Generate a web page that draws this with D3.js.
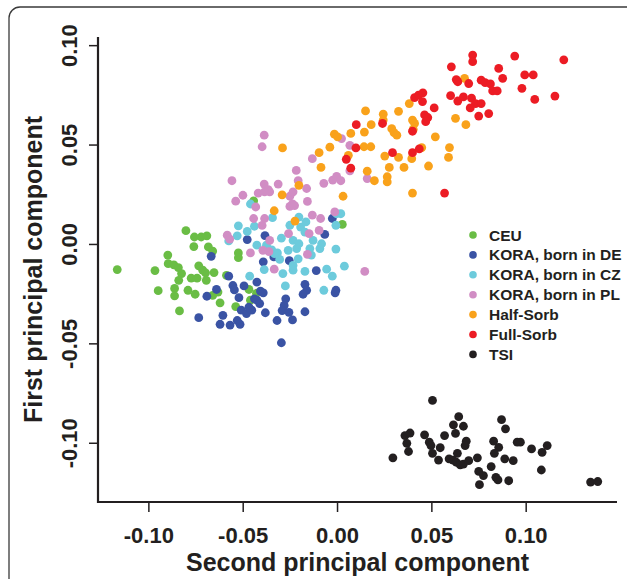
<!DOCTYPE html>
<html>
<head>
<meta charset="utf-8">
<script src="https://cdn.jsdelivr.net/npm/d3@7"></script>
<style>
  body { margin: 0; background: #fff; }
  text { font-family: "Liberation Sans", Arial, sans-serif; font-weight: bold; fill: #231f20; }
</style>
</head>
<body>
<div class="chart"></div>
<script>
// [second PC, first PC] for each sample
var ceu = [[-0.1165,-0.0129],[-0.0965,-0.0134],[-0.0948,-0.0235],[-0.0897,-0.0056],[-0.0895,-0.0099],
  [-0.0865,-0.0105],[-0.0841,-0.0119],[-0.0824,-0.0149],[-0.0839,-0.0183],[-0.0861,-0.0224],
  [-0.0861,-0.0261],[-0.0835,-0.0337],[-0.0801,0.0067],[-0.0756,0.0035],[-0.0720,0.0035],
  [-0.0690,0.0041],[-0.0759,-0.0013],[-0.0682,-0.0015],[-0.0659,-0.0036],[-0.0790,-0.0233],
  [-0.0752,-0.0253],[-0.0773,-0.0172],[-0.0742,-0.0172],[-0.0693,-0.0183],[-0.0733,-0.0110],
  [-0.0712,-0.0132],[-0.0697,-0.0145],[-0.0652,-0.0144],[-0.0523,-0.0045],[-0.0523,-0.0069],
  [-0.0659,-0.0259],[-0.0631,-0.0242],[-0.0620,-0.0296],[-0.0586,-0.0158],[-0.0537,-0.0315],
  [-0.0467,-0.0229],[-0.0459,-0.0283],[-0.0427,-0.0248],[-0.0442,0.0217],[0.0028,0.0098]];

var koraDE = [[-0.0667,-0.0062],[-0.0476,0.0022],[-0.0382,0.0042],[-0.0391,-0.0090],[-0.0335,-0.0065],
  [-0.0253,-0.0084],[-0.0110,-0.0134],[-0.0065,0.0048],[-0.0025,0.0128],[-0.0574,-0.0162],
  [-0.0552,-0.0209],[-0.0544,-0.0231],[-0.0493,-0.0211],[-0.0425,-0.0192],[-0.0406,-0.0237],
  [-0.0391,-0.0246],[-0.0438,-0.0276],[-0.0425,-0.0283],[-0.0520,-0.0270],[-0.0639,-0.0229],
  [-0.0690,-0.0263],[-0.0170,-0.0203],[-0.0161,-0.0233],[-0.0180,-0.0253],[-0.0006,-0.0233],
  [-0.0010,-0.0246],[-0.0272,-0.0276],[-0.0280,-0.0309],[-0.0291,-0.0335],[-0.0733,-0.0371],
  [-0.0605,-0.0359],[-0.0620,-0.0404],[-0.0567,-0.0408],[-0.0514,-0.0404],[-0.0529,-0.0385],
  [-0.0508,-0.0333],[-0.0480,-0.0350],[-0.0452,-0.0333],[-0.0467,-0.0318],[-0.0380,-0.0346],
  [-0.0318,-0.0385],[-0.0295,-0.0497],[-0.0255,-0.0344],[-0.0236,-0.0382],[-0.0170,-0.0341],
  [-0.0410,-0.0300]];

var koraCZ = [[-0.0574,0.0015],[-0.0523,0.0091],[-0.0529,0.0041],[-0.0476,0.0063],[-0.0459,0.0201],
  [-0.0438,0.0089],[-0.0425,-0.0006],[-0.0374,-0.0006],[-0.0342,0.0132],[-0.0346,-0.0030],
  [-0.0316,-0.0045],[-0.0295,0.0029],[-0.0304,-0.0078],[-0.0259,-0.0032],[-0.0250,0.0094],
  [-0.0233,0.0018],[-0.0214,-0.0023],[-0.0202,0.0001],[-0.0202,0.0135],[-0.0193,0.0085],
  [-0.0165,0.0111],[-0.0144,-0.0023],[-0.0127,0.0018],[-0.0091,-0.0023],[-0.0082,0.0001],
  [-0.0170,-0.0138],[-0.0233,-0.0132],[-0.0233,-0.0108],[-0.0287,-0.0149],[-0.0274,-0.0211],
  [-0.0386,-0.0129],[-0.0463,-0.0162],[-0.0206,-0.0075],[-0.0136,-0.0056],[-0.0055,-0.0127],
  [-0.0025,-0.0162],[-0.0006,-0.0026],[-0.0002,0.0152],[0.0020,0.0152],[-0.0006,0.0094],
  [0.0039,-0.0112],[-0.0070,-0.0233],[-0.0170,0.0059],[-0.0331,-0.0049]];

var koraPL = [[-0.0386,0.0547],[-0.0397,0.0489],[-0.0557,0.0318],[-0.0499,0.0245],[-0.0537,0.0215],
  [-0.0442,0.0128],[-0.0431,0.0186],[-0.0418,0.0256],[-0.0386,0.0301],[-0.0365,0.0273],
  [-0.0357,0.0262],[-0.0384,0.0262],[-0.0312,0.0301],[-0.0250,0.0240],[-0.0236,0.0202],
  [-0.0250,0.0189],[-0.0225,0.0193],[-0.0216,0.0370],[-0.0206,0.0318],[-0.0161,0.0279],
  [-0.0157,0.0214],[-0.0131,0.0429],[-0.0070,0.0305],[-0.0023,0.0321],[-0.0002,0.0340],
  [0.0020,0.0318],[0.0024,0.0530],[0.0068,0.0496],[0.0068,0.0368],[-0.0012,0.0161],
  [-0.0131,0.0145],[-0.0087,0.0128],[-0.0095,0.0068],[-0.0148,0.0052],[-0.0157,-0.0052],
  [-0.0257,0.0052],[-0.0384,0.0128],[-0.0357,0.0018],[-0.0393,-0.0032],[-0.0361,-0.0039],
  [-0.0459,-0.0045],[-0.0333,-0.0127],[-0.0582,0.0044],[-0.0569,0.0024],[-0.0397,0.0093],
  [0.0147,-0.0138],[-0.0233,0.0262],[0.0160,0.0329]];

var halfSorb = [[-0.0289,0.0483],[-0.0333,0.0167],[-0.0291,0.0247],[-0.0223,0.0115],[-0.0202,0.0295],
  [-0.0095,0.0459],[-0.0085,0.0385],[-0.0038,0.0487],[-0.0014,0.0552],[0.0003,0.0539],
  [0.0032,0.0240],[0.0060,0.0446],[0.0073,0.0556],[0.0151,0.0669],[0.0145,0.0563],
  [0.0181,0.0600],[0.0143,0.0489],[0.0179,0.0489],[0.0160,0.0366],[0.0198,0.0318],
  [0.0245,0.0653],[0.0245,0.0623],[0.0290,0.0580],[0.0302,0.0560],[0.0317,0.0547],
  [0.0326,0.0667],[0.0253,0.0442],[0.0326,0.0435],[0.0277,0.0385],[0.0266,0.0338],
  [0.0266,0.0312],[0.0355,0.0385],[0.0396,0.0429],[0.0383,0.0706],[0.0400,0.0623],
  [0.0411,0.0606],[0.0404,0.0576],[0.0449,0.0485],[0.0485,0.0392],[0.0400,0.0256],
  [0.0521,0.0539],[0.0596,0.0485],[0.0591,0.0435],[0.0628,0.0632],[0.0676,0.0833],
  [0.0683,0.0600]];

var fullSorb = [[0.0606,0.0891],[0.0632,0.0827],[0.0602,0.0746],[0.0640,0.0719],[0.0411,0.0736],
  [0.0432,0.0749],[0.0455,0.0760],[0.0453,0.0716],[0.0515,0.0684],[0.0464,0.0649],
  [0.0481,0.0636],[0.0470,0.0615],[0.0400,0.0567],[0.0102,0.0600],[0.0241,0.0606],
  [0.0100,0.0483],[0.0049,0.0426],[0.0073,0.0381],[0.0294,0.0459],[0.0400,0.0459],
  [0.0436,0.0478],[0.0570,0.0256],[0.0719,0.0950],[0.0719,0.0917],[0.0942,0.0945],
  [0.1202,0.0926],[0.0857,0.0883],[0.0640,0.0816],[0.0698,0.0807],[0.0764,0.0824],
  [0.0785,0.0812],[0.0813,0.0805],[0.0825,0.0770],[0.0849,0.0770],[0.0878,0.0833],
  [0.0995,0.0850],[0.1040,0.0850],[0.0980,0.0783],[0.1048,0.0727],[0.1155,0.0744],
  [0.0670,0.0740],[0.0713,0.0733],[0.0734,0.0706],[0.0764,0.0706],[0.0706,0.0684],
  [0.0751,0.0643],[0.0804,0.0656]];

var tsi = [[0.0506,-0.0787],[0.0645,-0.0869],[0.0617,-0.0910],[0.0670,-0.0917],[0.0628,-0.0953],
  [0.0872,-0.0884],[0.0893,-0.0930],[0.0360,-0.0964],[0.0387,-0.0951],[0.0370,-0.1003],
  [0.0379,-0.1044],[0.0296,-0.1076],[0.0464,-0.0960],[0.0570,-0.0964],[0.0489,-0.0997],
  [0.0498,-0.1014],[0.0547,-0.1025],[0.0506,-0.1053],[0.0538,-0.1087],[0.0685,-0.0992],
  [0.0679,-0.1014],[0.0638,-0.1053],[0.0594,-0.1081],[0.0615,-0.1087],[0.0632,-0.1098],
  [0.0653,-0.1111],[0.0670,-0.1107],[0.0698,-0.1090],[0.0744,-0.1076],[0.0830,-0.0992],
  [0.0857,-0.1023],[0.0834,-0.1053],[0.0889,-0.1081],[0.0934,-0.1090],[0.0955,-0.0997],
  [0.0972,-0.0997],[0.1031,-0.1031],[0.1114,-0.1014],[0.1087,-0.1048],[0.1083,-0.1137],
  [0.0817,-0.1120],[0.0751,-0.1144],[0.0776,-0.1165],[0.0842,-0.1174],[0.0853,-0.1187],
  [0.0910,-0.1191],[0.0755,-0.1211],[0.1344,-0.1198],[0.1382,-0.1195]];

var groupNames = ['CEU', 'KORA, born in DE', 'KORA, born in CZ', 'KORA, born in PL',
                  'Half-Sorb', 'Full-Sorb', 'TSI'];
var groupColors = ['#6abd45', '#3a53a4', '#6dcbdc', '#d18dc4', '#f9a21b', '#ec1c24', '#231f20'];
var groupData = [ceu, koraDE, koraCZ, koraPL, halfSorb, fullSorb, tsi];

var xTicks = [-0.10, -0.05, 0.00, 0.05, 0.10];
var yTicks = [-0.10, -0.05, 0.00, 0.05, 0.10];
var xLimits = [-0.1267, 0.1484];
var yLimits = [-0.1298, 0.1041];

var width = 627, height = 579;
var plot = { left: 98, right: 617, top: 37, bottom: 502 };

var svg = d3.select('.chart')
            .append('svg')
            .attr('width', width)
            .attr('height', height);

// rounded frame around the figure, runs off the right and bottom edges
svg.append('rect')
  .attr('x', 9).attr('y', 7)
  .attr('width', 700).attr('height', 700)
  .attr('rx', 11)
  .style('fill', 'none')
  .style('stroke', '#3a3a3a')
  .style('stroke-width', 1.3);

var x = d3.scaleLinear().domain(xLimits).range([plot.left, plot.right]);
var y = d3.scaleLinear().domain(yLimits).range([plot.bottom, plot.top]);

// plain hyphen for negatives, like the original
var fmt = function(v) { return d3.format('.2f')(v).replace('\u2212', '-'); };

// axes (L shaped box like R's bty="l")
var xAxis = svg.append('g')
  .attr('transform', 'translate(0,' + plot.bottom + ')')
  .call(d3.axisBottom(x).tickValues(xTicks).tickFormat(fmt).tickSize(10).tickPadding(10));
var yAxis = svg.append('g')
  .attr('transform', 'translate(' + plot.left + ',0)')
  .call(d3.axisLeft(y).tickValues(yTicks).tickFormat(fmt).tickSize(9).tickPadding(10));

[xAxis, yAxis].forEach(function(a) {
  a.select('.domain').remove();
  a.selectAll('.tick line').style('stroke', '#231f20').style('stroke-width', 1.5);
  a.selectAll('.tick text')
    .style('font-family', '"Liberation Sans", Arial, sans-serif')
    .style('font-weight', 'bold')
    .style('font-size', '22px')
    .style('fill', '#231f20');
});

// rotated y tick labels
yAxis.selectAll('.tick text')
  .attr('x', null).attr('dy', null)
  .attr('text-anchor', 'middle')
  .attr('transform', 'translate(-21,0) rotate(-90)');

xAxis.selectAll('.tick text').attr('dy', '0.95em');

svg.append('path')
  .attr('d', 'M' + plot.left + ',' + plot.top + 'V' + plot.bottom + 'H' + plot.right)
  .style('fill', 'none')
  .style('stroke', '#231f20')
  .style('stroke-width', 2.2);

// points
groupData.forEach(function(pts, i) {
  svg.append('g').selectAll('circle')
    .data(pts)
    .enter().append('circle')
      .attr('cx', function(d) { return x(d[0]); })
      .attr('cy', function(d) { return y(d[1]); })
      .attr('r', 4.4)
      .style('fill', groupColors[i]);
});

// legend
var legend = svg.append('g').attr('transform', 'translate(473,235)');
var rows = legend.selectAll('g')
  .data(groupNames)
  .enter().append('g')
    .attr('transform', function(d, i) { return 'translate(0,' + i * 19.9 + ')'; });
rows.append('circle')
  .attr('r', 3.8)
  .style('fill', function(d, i) { return groupColors[i]; });
rows.append('text')
  .attr('x', 16)
  .attr('dy', '0.36em')
  .style('font-size', '15.5px')
  .text(function(d) { return d; });

// axis titles
svg.append('text')
  .attr('x', (plot.left + plot.right) / 2)
  .attr('y', 571)
  .attr('text-anchor', 'middle')
  .style('font-size', '25px')
  .text('Second principal component');

svg.append('text')
  .attr('transform', 'translate(42,' + (plot.top + plot.bottom) / 2 + ') rotate(-90)')
  .attr('text-anchor', 'middle')
  .style('font-size', '25px')
  .text('First principal component');
</script>
</body>
</html>
